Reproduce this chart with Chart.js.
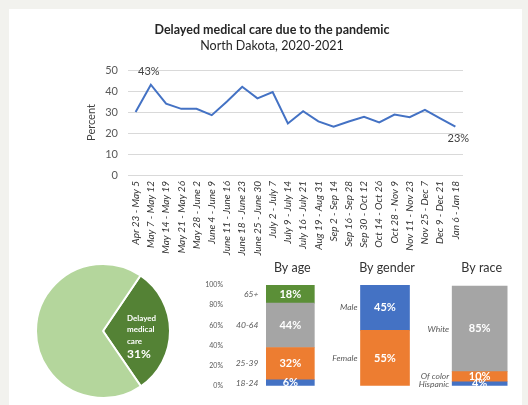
<!DOCTYPE html>
<html>
<head>
<meta charset="utf-8">
<script src="https://cdn.jsdelivr.net/npm/chart.js@4.4.1/dist/chart.umd.min.js"></script>
<style>
  html, body { margin: 0; padding: 0; }
  body { width: 528px; height: 405px; overflow: hidden; background: #f2f2ee; position: relative; }
  #panel { position: absolute; left: 9px; top: 9px; width: 513px; height: 420px; background: #fff; }
  canvas { position: absolute; }
  #lineChart { left: 9px; top: 9px; }
  #pieChart { left: 33px; top: 261px; }
  #barChart { left: 190px; top: 258px; }
</style>
</head>
<body>
<div id="panel"></div>
<canvas id="lineChart" width="513" height="256"></canvas>
<canvas id="pieChart" width="140" height="140"></canvas>
<canvas id="barChart" width="338" height="152"></canvas>

<script>
// weekly survey periods
const weeks = [
    'Apr 23 - May 5', 'May 7 - May 12', 'May 14 - May 19', 'May 21 - May 26', 'May 28 - June 2',
    'June 4 - June 9', 'June 11 - June 16', 'June 18 - June 23', 'June 25 - June 30', 'July 2 - July 7',
    'July 9 - July 14', 'July 16 - July 21', 'Aug 19 - Aug 31', 'Sep 2 - Sep 14', 'Sep 16 - Sep 28',
    'Sep 30 - Oct 12', 'Oct 14 - Oct 26', 'Oct 28 - Nov 9', 'Nov 11 - Nov 23', 'Nov 25 - Dec 7',
    'Dec 9 - Dec 21', 'Jan 6 - Jan 18'
];
const delayedPct = [30, 43, 34, 31.5, 31.5, 28.5, 35, 42, 36.5, 39.5, 24.5, 30.4, 25.5, 23, 25.5,
    27.7, 25, 28.8, 27.5, 31, 27, 23];
const labelledPoints = [1, 21];
const yTicks = [0, 10, 20, 30, 40, 50];

// pie
const pieLabels = ['Delayed medical care', 'Did not delay'];
const pieValues = [31, 69];

// stacked breakdowns
const groupTitles = ['By age', 'By gender', 'By race'];
const ageLabels = ['18-24', '25-39', '40-64', '65+'];
const ageValues = [6, 32, 44, 18];
const genderLabels = ['Female', 'Male'];
const genderValues = [55, 45];
const raceLabels = ['Hispanic', 'Of color', 'White'];
const raceValues = [4, 10, 85];
const pctTicks = [0, 20, 40, 60, 80, 100];

const BLUE = '#4472c4', ORANGE = '#ed7d31', GREY = '#a5a5a5', GREEN = '#5b8f37';
const FONT = 'Lato, "Liberation Sans", sans-serif';

Chart.defaults.font.family = FONT;
Chart.defaults.color = '#595959';

// ---- line chart ----
const pointLabelPlugin = {
    id: 'pointLabels',
    afterDatasetsDraw(chart) {
        const ctx = chart.ctx;
        const meta = chart.getDatasetMeta(0);
        ctx.save();
        ctx.font = '11px ' + FONT;
        ctx.fillStyle = '#404040';
        ctx.textAlign = 'center';
        ctx.textBaseline = 'middle';
        labelledPoints.forEach((i, n) => {
            const p = meta.data[i];
            const v = delayedPct[i];
            const dy = n === 0 ? -13 : 12;
            const dx = n === 0 ? -2 : 3;
            ctx.fillText(Math.round(v) + '%', p.x + dx, p.y + dy);
        });
        ctx.restore();
    }
};

new Chart(document.getElementById('lineChart'), {
    type: 'line',
    data: {
        labels: weeks,
        datasets: [{
            data: delayedPct,
            borderColor: BLUE,
            borderWidth: 2,
            pointRadius: 0,
            tension: 0,
            fill: false
        }]
    },
    options: {
        responsive: false,
        animation: false,
        layout: { padding: { top: 13, left: 72, right: 59, bottom: 0 } },
        plugins: {
            legend: { display: false },
            tooltip: { enabled: false },
            title: {
                display: true,
                text: 'Delayed medical care due to the pandemic',
                color: '#262626',
                font: { size: 12.5, weight: 'bold' },
                lineHeight: 1.2,
                padding: { top: 0, bottom: 1 }
            },
            subtitle: {
                display: true,
                text: 'North Dakota, 2020-2021',
                color: '#262626',
                font: { size: 12.5 },
                padding: { top: 0, bottom: 17 }
            }
        },
        scales: {
            x: {
                offset: true,
                grid: { display: false, drawTicks: false },
                border: { display: false },
                ticks: {
                    autoSkip: false,
                    maxRotation: 90,
                    minRotation: 90,
                    padding: 6,
                    color: '#333',
                    font: { size: 10, style: 'italic' }
                },
                afterFit(scale) { scale.height = 90; }
            },
            y: {
                min: yTicks[0],
                max: yTicks[yTicks.length - 1],
                afterBuildTicks(scale) { scale.ticks = yTicks.map(v => ({ value: v })); },
                grid: { color: '#d9d9d9', drawTicks: false },
                border: { display: false },
                ticks: { padding: 10, color: '#595959', font: { size: 11 } },
                title: { display: true, text: 'Percent', color: '#404040', font: { size: 11 } },
                afterFit(scale) { scale.width = 47; }
            }
        }
    },
    plugins: [pointLabelPlugin]
});

// ---- pie ----
const pieLabelPlugin = {
    id: 'pieLabel',
    afterDatasetsDraw(chart) {
        const ctx = chart.ctx;
        const arc = chart.getDatasetMeta(0).data[0];
        const x = arc.x + 24, y = arc.y - 13;
        ctx.save();
        ctx.fillStyle = '#fff';
        ctx.textAlign = 'left';
        ctx.textBaseline = 'middle';
        ctx.font = 'bold 8px ' + FONT;
        ['Delayed', 'medical', 'care'].forEach((w, i) => ctx.fillText(w, x, y + i * 11.5));
        ctx.font = 'bold 12px ' + FONT;
        ctx.fillText(pieValues[0] + '%', x, y + 36);
        ctx.restore();
    }
};

new Chart(document.getElementById('pieChart'), {
    type: 'pie',
    data: {
        labels: pieLabels,
        datasets: [{
            data: pieValues,
            backgroundColor: ['#548235', '#b4d69c'],
            borderColor: '#fff',
            borderWidth: 2
        }]
    },
    options: {
        responsive: false,
        animation: false,
        rotation: 34,
        layout: { padding: 2 },
        plugins: { legend: { display: false }, tooltip: { enabled: false } }
    },
    plugins: [pieLabelPlugin]
});

// ---- stacked breakdown bars ----
const groups = [
    { labels: ageLabels, values: ageValues, colors: [BLUE, ORANGE, GREY, GREEN], thickness: 48, gap: 8 },
    { labels: genderLabels, values: genderValues, colors: [ORANGE, BLUE], thickness: 49, gap: 3 },
    { labels: raceLabels, values: raceValues, colors: [BLUE, ORANGE, GREY], thickness: 55, gap: 3 }
];

const barDatasets = [];
groups.forEach((g, gi) => {
    g.values.forEach((v, i) => {
        const data = groupTitles.map(() => null);
        data[gi] = v;
        barDatasets.push({
            label: g.labels[i],
            data: data,
            backgroundColor: g.colors[i],
            barThickness: g.thickness,
            group: gi
        });
    });
});

const barLabelPlugin = {
    id: 'barLabels',
    afterDatasetsDraw(chart) {
        const ctx = chart.ctx;
        ctx.save();
        ctx.textBaseline = 'middle';
        chart.data.datasets.forEach((ds, di) => {
            const gi = ds.group;
            const el = chart.getDatasetMeta(di).data[gi];
            if (!el) return;
            const cy = (el.y + el.base) / 2;
            ctx.fillStyle = '#fff';
            ctx.textAlign = 'center';
            ctx.font = 'bold 11px ' + FONT;
            ctx.fillText(ds.data[gi] + '%', el.x, cy);
            ctx.fillStyle = '#595959';
            ctx.textAlign = 'right';
            ctx.font = 'italic 8.5px ' + FONT;
            ctx.fillText(ds.label, el.x - el.width / 2 - groups[gi].gap, cy);
        });
        const xs = chart.scales.x;
        ctx.fillStyle = '#333';
        ctx.textAlign = 'center';
        ctx.font = '12.5px ' + FONT;
        groupTitles.forEach((t, i) => ctx.fillText(t, xs.getPixelForValue(i) + 2, 10));
        ctx.restore();
    }
};

new Chart(document.getElementById('barChart'), {
    type: 'bar',
    data: { labels: groupTitles, datasets: barDatasets },
    options: {
        responsive: false,
        animation: false,
        layout: { padding: { top: 27, bottom: 5, left: 0, right: 1 } },
        plugins: { legend: { display: false }, tooltip: { enabled: false } },
        scales: {
            x: { stacked: true, display: false },
            y: {
                stacked: true,
                min: 0,
                max: 100,
                afterBuildTicks(scale) { scale.ticks = pctTicks.map(v => ({ value: v })); },
                grid: { display: false, drawTicks: false },
                border: { display: false },
                ticks: {
                    padding: 20,
                    color: '#595959',
                    font: { size: 7 },
                    callback: v => v + '%'
                },
                afterFit(scale) { scale.width = 53; }
            }
        }
    },
    plugins: [barLabelPlugin]
});
</script>
</body>
</html>
